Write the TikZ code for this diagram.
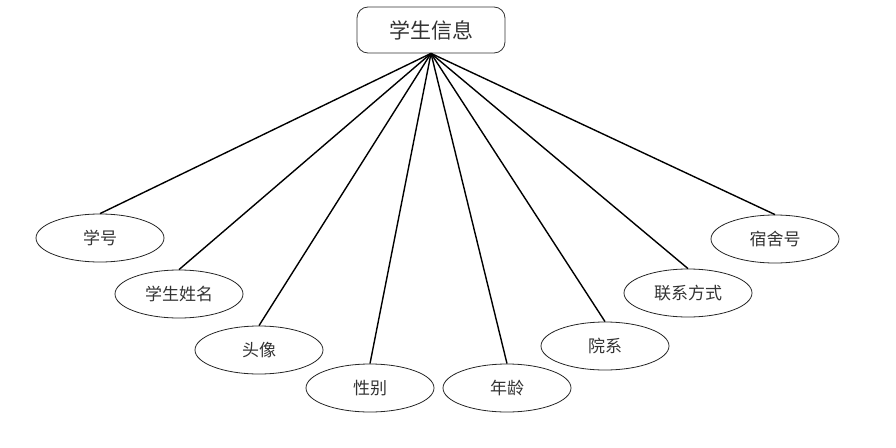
\documentclass[tikz,border=0pt]{standalone}
\usepackage{fontspec}
\newfontfamily\cjk{Noto Sans CJK SC}
\usetikzlibrary{shapes.geometric}
\begin{document}
\begin{tikzpicture}[x=1pt,y=-1pt,
  attr/.style={draw=black!85,line width=0.8pt,ellipse,minimum width=128pt,minimum height=48pt,inner sep=0pt,font=\cjk\fontsize{17}{17}\selectfont,text=black!80},
  ent/.style={draw=black!80,line width=0.8pt,rounded corners=11pt,minimum width=148pt,minimum height=46pt,inner sep=0pt,font=\cjk\fontsize{21}{21}\selectfont,text=black!80},
  link/.style={line width=1.4pt,black}]
\useasboundingbox (0,0) rectangle (896,447);
\node[ent] (top) at (431,30) {学生信息};
\node[attr] (a1) at (100,238) {学号};
\node[attr] (a2) at (179,294) {学生姓名};
\node[attr] (a3) at (259,350) {头像};
\node[attr] (a4) at (370,388) {性别};
\node[attr] (a5) at (507,388) {年龄};
\node[attr] (a6) at (605,346) {院系};
\node[attr] (a7) at (688,293) {联系方式};
\node[attr] (a8) at (775,239) {宿舍号};
\foreach \n in {a1,a2,a3,a4,a5,a6,a7,a8}
  \draw[link] (top.south) -- (\n.north);
\end{tikzpicture}
\end{document}
